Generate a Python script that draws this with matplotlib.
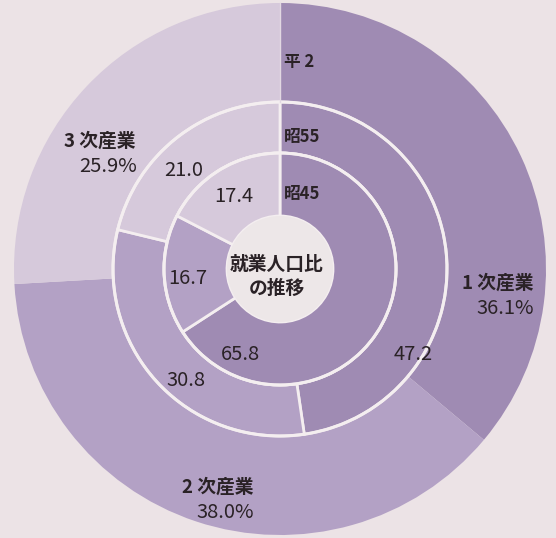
import matplotlib
matplotlib.use('Agg')
import matplotlib.pyplot as plt
from matplotlib.patches import Circle

plt.rcParams['font.family'] = ['Noto Sans CJK JP', 'DejaVu Sans']

# 産業別就業人口比 (%)
sectors = ['1 次産業', '2 次産業', '3 次産業']
years = ['平 2', '昭55', '昭45']
h2 = [36.1, 38.0, 25.9]
s55 = [47.2, 30.8, 21.0]
s45 = [65.8, 16.7, 17.4]

colors = ['#9f8bb3', '#b3a1c5', '#d6c9db']
bg = '#ece3e6'
line = '#f4eef0'

fig = plt.figure(figsize=(5.56, 5.38), dpi=100, facecolor=bg)
ax = fig.add_axes([0, 0, 1, 1])
ax.set_facecolor(bg)

cx, cy = 280, 269
r_out, r_mid, r_in, r_hole = 266, 167, 116, 53

# y axis is inverted below, so start at -90 and run counterclockwise
# in data space to get clockwise-from-top on screen
ax.pie(h2, radius=r_out, center=(cx, cy), colors=colors, startangle=-90,
       counterclock=True,
       wedgeprops=dict(width=r_out - r_mid, linewidth=0))
ax.pie(s55, radius=r_mid, center=(cx, cy), colors=colors, startangle=-90,
       counterclock=True,
       wedgeprops=dict(width=r_mid - r_in, edgecolor=line, linewidth=2))
ax.pie(s45, radius=r_in, center=(cx, cy), colors=colors, startangle=-90,
       counterclock=True,
       wedgeprops=dict(width=r_in - r_hole, edgecolor=line, linewidth=2))

for r in (r_mid, r_in):
    ax.add_patch(Circle((cx, cy), r, fill=False, edgecolor=line, lw=2.2))
ax.add_patch(Circle((cx, cy), r_hole, facecolor='#ede7e8', edgecolor='none'))
ax.plot([cx, cx], [cy - r_out, cy - r_mid], color='#e2d8e2', lw=1)

ax.set_xlim(0, 556)
ax.set_ylim(538, 0)
ax.set_aspect('equal')
ax.axis('off')

dark = '#2a2226'
bold = dict(fontsize=13.5, fontweight='bold', color=dark)
yr = dict(fontsize=12, fontweight='bold', color=dark)
num = dict(fontsize=14.5, fontweight='normal', color=dark)

# year labels
for name, y in zip(years, [62, 137, 194]):
    ax.text(284, y, name, ha='left', va='center', **yr)

# sector labels (outer ring)
for name, v, (x, y) in zip(sectors, h2,
                           [(533, 283), (253, 487), (136, 141)]):
    ax.text(x, y, name, ha='right', va='center', **bold)
    ax.text(x + 1, y + 25, f'{v:.1f}%', ha='right', va='center', **num)

# middle ring values
for v, (x, y) in zip(s55, [(413, 355), (186, 381), (184, 170)]):
    ax.text(x, y, f'{v:.1f}', ha='center', va='center', **num)

# inner ring values
for v, (x, y) in zip(s45, [(240, 355), (188, 279), (234, 196)]):
    ax.text(x, y, f'{v:.1f}', ha='center', va='center', **num)

ax.text(cx - 3, 264, '就業人口比', ha='center', va='center', fontsize=13.5,
        fontweight='bold', color=dark)
ax.text(cx - 3, 288, 'の推移', ha='center', va='center', fontsize=13.5,
        fontweight='bold', color=dark)

fig.savefig('out.png', dpi=100, facecolor=bg)
